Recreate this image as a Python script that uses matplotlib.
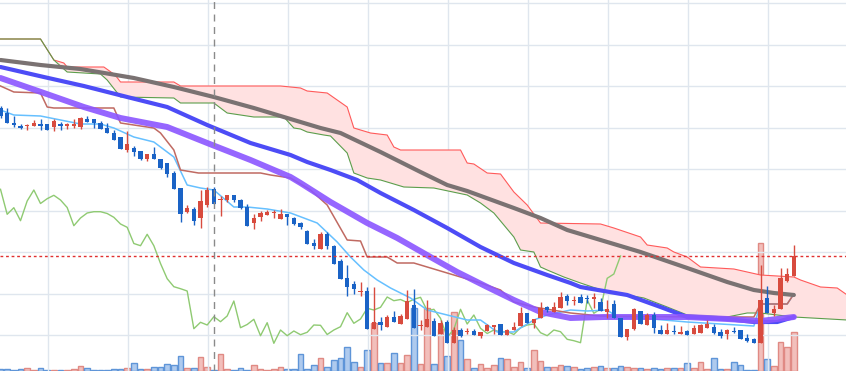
import numpy as np
import matplotlib
matplotlib.use('Agg')
import matplotlib.pyplot as plt

# daily candles (price units), oldest first
opens = [763, 758, 748, 745.5, 745, 745.3, 747, 747.5, 744.3, 746.7,
         745, 745.3, 744, 752, 752, 748, 743.3, 738, 734, 721,
         722.7, 720, 711.7, 717, 711.7, 707.7, 698.3, 682.7, 659.3, 662,
         653.3, 666, 681.7, 671, 671.5, 675.7, 671, 663.7, 648.3, 654.3,
         656, 657.7, 652, 657.5, 653.3, 648.3, 640, 628, 622, 637,
         625.5, 610, 593, 586.7, 579, 580, 542, 548.7, 543.7, 554,
         547.5, 552.5, 566, 545.5, 544.3, 550, 537, 549, 527.7, 541,
         539, 540, 535.3, 540, 544.5, 546.7, 536.5, 541, 545.3, 557.7,
         548.3, 553.5, 563.7, 558.7, 562.7, 575, 570.5, 574, 573.3, 572,
         569, 559.5, 567, 552.7, 534.3, 542.3, 560, 546, 556, 541,
         537.5, 540, 537.5, 540.3, 536.7, 538.3, 543.5, 544, 539, 537,
         540.3, 541, 532.7, 531.7, 528.3, 572.7, 557.7, 562, 590.3, 595]
closes = [755, 748.5, 746, 743.5, 746, 748, 745, 741.5, 750, 745.3,
          746.7, 747, 753.3, 749.3, 748, 742.3, 738.3, 731.3, 722, 727.3,
          719.3, 711.7, 717, 711.7, 703.3, 696.7, 681.7, 656.7, 663.3, 650.3,
          670, 681, 667.5, 672.3, 675.7, 671, 663.5, 645.3, 653, 658,
          659.3, 659.3, 657.5, 653.7, 647, 643.7, 627.5, 625.3, 636.7, 625.3,
          607.5, 592.3, 584.3, 582.3, 580, 542.3, 548.7, 546, 554.3, 549.3,
          555, 570, 543.3, 546.5, 551.7, 535.3, 548.3, 527.7, 541, 535.3,
          540, 536.3, 538.7, 546, 545.7, 536.5, 541, 544.3, 558.3, 547.7,
          552, 562.7, 561, 563.7, 574, 570.3, 571.5, 568.5, 571.7, 573.7,
          560.3, 561.7, 552.7, 533.7, 541.7, 561.7, 547, 556, 542.7, 537.5,
          541, 539, 539.5, 536.5, 543.3, 546, 547, 538.3, 535.3, 541,
          539.3, 531.7, 530.3, 528.3, 571, 557.7, 562, 592.7, 597, 615]
highs = [765, 763, 755, 747, 747, 750.7, 752, 747.5, 752, 749.3,
         748, 752, 754, 755.3, 752, 750, 747.7, 741.3, 734, 740,
         725.3, 720, 717, 724.3, 711.7, 707.7, 700, 682.7, 666, 663.7,
         681, 684.3, 684.3, 675.3, 675.7, 675.7, 672.3, 666.7, 657, 660,
         661, 661.5, 662.3, 657.5, 654.3, 649.3, 641, 631.7, 639.3, 639.3,
         626.5, 612, 606, 590, 588.7, 583.7, 583.7, 554.3, 555.7, 559.7,
         557, 581, 582, 551, 571, 553, 551, 551, 544.3, 542.7,
         542.7, 541.7, 538.7, 546.7, 546, 546.7, 542, 549, 564.3, 557.7,
         552, 568.7, 565.3, 568.7, 579, 577, 575, 576.7, 576, 577.7,
         572.7, 571, 571, 552.7, 541.7, 563.3, 560, 558.3, 559.3, 546,
         548.3, 546, 545, 541, 546, 547, 551, 546.7, 542, 542,
         544.3, 541, 536.7, 532.7, 606, 585, 566, 603.3, 603.3, 626]
lows = [753, 748.5, 744, 742, 741.5, 745.3, 741.3, 741.5, 740.3, 741.3,
        742, 743.3, 742, 749.3, 742.7, 742.3, 738.3, 731.3, 722, 719.3,
        715, 711, 710.3, 711.7, 702, 694.3, 681.7, 648.7, 657.7, 646.3,
        642.7, 664, 667.5, 655.3, 669, 669, 661.7, 645.3, 642, 650.3,
        656, 653.5, 652, 646.5, 645.7, 642, 627.5, 622.3, 622, 622,
        607.5, 592.3, 575.3, 576.7, 575, 542.3, 542, 540.7, 543.7, 549.3,
        547.5, 552.5, 543.3, 541, 544.3, 535.3, 537, 527.7, 527.7, 534.3,
        537, 536.3, 532.7, 540, 536.7, 536.5, 536.5, 541, 545.3, 547.7,
        543.3, 553.5, 559, 558.7, 562.7, 566, 566, 568.5, 567.7, 563.3,
        560.3, 552.7, 552.7, 533.7, 531, 541, 547, 546, 538.3, 537.5,
        537.5, 537.3, 537.5, 536.5, 536.7, 538.3, 543.5, 537, 532.7, 532,
        537.7, 531.7, 529.3, 527.7, 528, 557.7, 555, 562, 588.7, 595]
volume = [2, 2, 1, 2, 3, 1, 3, 1, 1.5, 1,
          1, 2, 5, 3, 1, 1, 1, 2, 2, 3,
          8, 2, 2, 4, 4, 7, 6, 15, 3, 3,
          14, 4, 1, 17, 2, 1, 3, 1, 6, 2,
          1, 2, 4, 2, 2, 17, 2, 6, 13, 4,
          11, 13, 24, 9, 4, 21, 48, 8, 8, 18,
          8, 16, 63, 7, 63, 7, 42, 15, 59, 31,
          12, 3, 7, 3, 6, 13, 12, 4, 9, 3,
          21, 10, 4, 4, 6, 5, 4, 2, 3, 4.5,
          5.5, 3, 3, 5.5, 4, 3, 3, 2, 3, 2.5,
          3, 3, 3, 8, 3, 9, 2, 13, 2, 2,
          9, 6, 1, 1, 128, 12, 5, 29, 24, 39]

# moving averages (index, value)
ma_long_x = [0, 6, 12, 20, 26, 32, 38, 43, 48, 51, 57, 63, 67, 70, 77, 81, 85, 90, 96, 103, 109, 113, 116, 119]
ma_long_y = [811, 806, 802, 793, 784, 774, 763, 753, 743, 738, 719, 699, 686, 680, 663, 653, 641, 631, 619, 603, 589, 581, 578, 576]
ma_mid_x = [0, 6.5, 12.5, 19, 25, 31, 37.5, 43.5, 46, 49.5, 53.5, 57, 62, 67, 72, 77, 82, 85.5, 87, 90.5, 94, 99, 103, 109, 113, 116.5, 119]
ma_mid_y = [804, 794, 785, 774, 764, 746, 728, 716, 709, 701, 691, 678, 661, 643, 624, 608, 596, 588, 584, 580, 576, 564, 554, 552, 549, 549, 554]
ma_short_x = [0, 6.5, 12.5, 18, 25, 31, 37.5, 43.5, 45, 49.5, 55, 59.5, 64.5, 68.5, 73, 77, 81, 85.5, 90.5, 96.5, 103, 109, 114, 119]
ma_short_y = [793, 778, 764, 753, 744, 728, 711, 694, 688, 669, 648, 633, 614, 599, 584, 571, 559, 553, 554, 554, 554, 552, 550, 554]

# ichimoku
tenkan_x = [0, 2, 6, 9, 12, 15, 17, 20, 23, 26, 28, 30, 32, 35, 37, 40, 43.5, 47.5, 50.5, 52.5,
            54.5, 56.5, 58.5, 61.5, 64, 67, 70, 72, 74.5, 77, 80, 82, 85.5, 88, 91, 92.7, 96, 103, 113, 114, 118, 119]
tenkan_y = [761, 756, 755, 751, 747, 747, 743, 734, 729, 714, 686, 683, 681, 664, 664, 662, 658, 648, 629, 614,
            601, 591, 583, 573, 561, 556, 551, 551, 539, 539, 551, 556, 561, 560, 561, 553, 553, 549, 545, 567, 567, 577]
kijun_x = [0, 2, 6, 7, 8, 17, 18, 23, 24, 26, 27, 29.7, 39, 40.5, 43.5, 46.5, 49, 52, 54, 55,
           58, 59.5, 62, 67, 72, 75, 77, 80, 85.5, 90, 105, 113, 114, 118, 119]
kijun_y = [785, 779, 778, 764, 763, 763, 748, 743, 738, 721, 701, 698, 698, 696, 693, 681, 666, 631, 630, 614,
           614, 608, 608, 598, 588, 581, 569, 564, 558, 555, 554, 554, 567, 567, 577]
span_a_x = [0, 6, 8, 9.5, 10, 15.5, 17.2, 18, 26, 27, 42, 45, 46, 49, 52, 53, 55.5, 58, 59, 60,
            69, 70, 71, 73, 75, 77, 79, 81, 90, 92, 96, 97, 100, 101, 103, 105, 110, 114, 119, 120,
            123, 125.5, 127]
span_a_y = [832, 832, 811, 808, 804, 804, 796, 789, 789, 785, 785, 783, 780, 778, 764, 743, 738, 736, 724, 721,
            721, 708, 707, 698, 697, 679, 666, 648, 647, 643, 634, 626, 623, 619, 614, 604, 602, 596, 594, 591,
            584, 583, 576]
span_b_x = [0, 6, 8, 10, 12.5, 15, 16, 18, 26, 27, 32, 34, 38, 42.5, 44, 45, 46, 48.5, 49.5, 52,
            53, 55, 57, 60.5, 65, 70, 72, 74, 77, 78, 80, 81, 82, 84.5, 87, 91, 94, 96.5, 100, 103,
            109, 112, 114, 119, 127]
span_b_y = [832, 832, 811, 799, 798, 797, 791, 774, 773, 768, 768, 758, 754, 754, 743, 742, 739, 736, 735, 718,
            698, 693, 691, 684, 683, 676, 668, 658, 634, 621, 619, 604, 601, 594, 588, 579, 576, 573, 564, 556,
            554, 558, 558, 554, 551]
lag = 26
cursor_idx = 32

o = np.array(opens); c = np.array(closes)
h = np.array(highs); l = np.array(lows)
x = np.arange(len(o))
up = c >= o
RED, BLUE = '#d84b3e', '#1a63c6'
col = np.where(up, RED, BLUE)

fig = plt.figure(figsize=(8.46, 3.71), dpi=100)
vax = fig.add_axes([0, 0, 1, 1])
ax = fig.add_axes([0, 0, 1, 1], sharex=vax)
ax.set_zorder(vax.get_zorder() + 1)
ax.patch.set_visible(False)

ax.set_xlim(-0.075, 126.82)
ax.set_ylim(500, 871)
vax.set_ylim(0, 371)

# grid
vax.set_xticks(np.arange(7.125, 127, 12))
vax.set_yticks([])
ax.set_yticks(np.arange(867.7, 520, -41.46))
vax.grid(True, axis='x', color='#dfe6ee', lw=1)
ax.grid(True, axis='y', color='#dfe6ee', lw=1)
ax.set_axisbelow(True)
for a in (ax, vax):
    a.tick_params(length=0, labelleft=False, labelbottom=False, labelright=False)
    for s in a.spines.values():
        s.set_visible(False)

# volume
vax.bar(x, volume, width=0.85, color=np.where(up, '#f2bfbb', '#aecaee'),
        edgecolor=np.where(up, '#e08a84', '#5f95d8'), linewidth=1)

# cloud
ax.fill(np.r_[span_a_x, span_b_x[::-1]], np.r_[span_a_y, span_b_y[::-1]],
        color='#ffe1e1', lw=0, zorder=1)
ax.plot(span_a_x, span_a_y, color='#ff5a5a', lw=0.8, zorder=2)
ax.plot(span_b_x, span_b_y, color='#5c9e4c', lw=0.8, zorder=2)

# lagging span
ax.plot(x[:-lag], c[lag:], color='#8fca72', lw=1, zorder=2)
ax.plot(tenkan_x, tenkan_y, color='#66c0ff', lw=1.1, zorder=3)
ax.plot(kijun_x, kijun_y, color='#c06a62', lw=1.1, zorder=3)

ax.plot(ma_long_x, ma_long_y, color='#7a7272', lw=3, zorder=4, solid_capstyle='round')
ax.plot(ma_mid_x, ma_mid_y, color='#4d4cf6', lw=3, zorder=4, solid_capstyle='round')
ax.plot(ma_short_x, ma_short_y, color='#8b55ff', lw=4.3, alpha=0.9, zorder=4, solid_capstyle='round')

# candles
ax.vlines(x, l, h, colors=col, lw=1, zorder=5)
ax.bar(x, np.maximum(np.abs(c - o), 1.0), bottom=np.minimum(o, c), width=0.68,
       color=col, lw=0, zorder=6)

ax.axhline(c[-1], color='#e03030', ls=(0, (2, 2)), lw=1, zorder=7)
ax.axvline(cursor_idx, color='#8a8a8a', ls=(0, (5, 4)), lw=1, zorder=7)

fig.savefig('out.png', dpi=100)
